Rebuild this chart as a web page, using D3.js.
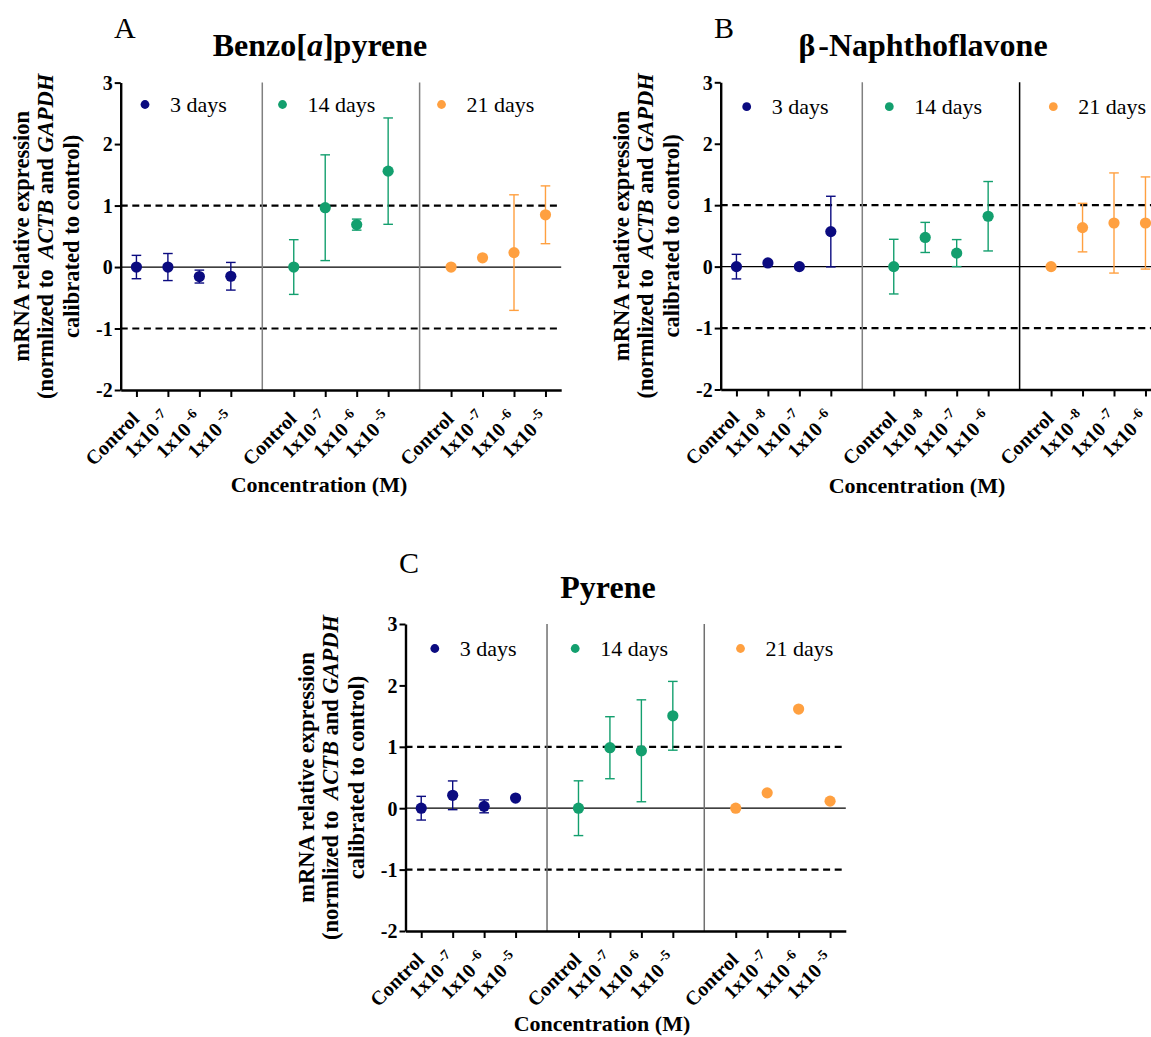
<!DOCTYPE html>
<html>
<head>
<meta charset="utf-8">
<script src="https://cdn.jsdelivr.net/npm/d3@7"></script>
<style>
  body { margin: 0; background: #fff; }
  svg { display: block; }
  text { font-family: "Liberation Serif", "Times New Roman", serif; fill: #000; }
</style>
</head>
<body>
<svg id="fig" width="1151" height="1037"></svg>
<script>
// ---- data ----------------------------------------------------------
const timepoints = ["3 days", "14 days", "21 days"];
const yTicks = [-2, -1, 0, 1, 2, 3];
const thresholds = [-1, 1];

// Benzo[a]pyrene: means and SD per time point (rows) and dose (columns)
const bapDoses = ["Control", "1x10^-7", "1x10^-6", "1x10^-5"];
const bapMeans = [
  [0, 0, -0.155, -0.15],
  [0, 0.965, 0.69, 1.56],
  [0, 0.15, 0.235, 0.85]
];
const bapErrors = [
  [0.19, 0.22, 0.105, 0.225],
  [0.445, 0.86, 0.09, 0.865],
  [0, 0, 0.94, 0.47]
];

// beta-Naphthoflavone
const bnfDoses = ["Control", "1x10^-8", "1x10^-7", "1x10^-6"];
const bnfMeans = [
  [0, 0.06, 0, 0.57],
  [0, 0.475, 0.22, 0.82],
  [0, 0.635, 0.71, 0.71]
];
const bnfErrors = [
  [0.2, 0, 0, 0.575],
  [0.445, 0.245, 0.22, 0.565],
  [0, 0.395, 0.815, 0.75]
];

// Pyrene
const pyrDoses = ["Control", "1x10^-7", "1x10^-6", "1x10^-5"];
const pyrMeans = [
  [0, 0.21, 0.03, 0.165],
  [0, 0.985, 0.935, 1.505],
  [0, 0.25, 1.615, 0.115]
];
const pyrErrors = [
  [0.193, 0.234, 0.105, 0],
  [0.446, 0.505, 0.83, 0.56],
  [0, 0, 0, 0]
];

// ---- styling and layout -------------------------------------------
const seriesColors = ["#0b0b80", "#139f6e", "#ffa040"];
const serif = '"Liberation Serif", "Times New Roman", serif';

const panels = [
  {
    letter: "A", letterX: 114, letterY: 38,
    title: [{ t: "Benzo[" }, { t: "a", italic: true }, { t: "]pyrene" }],
    titleX: 320, titleY: 56,
    doses: bapDoses, means: bapMeans, errors: bapErrors,
    left: 120.7, right: 561.2, top: 82.6, bottom: 390,
    sepColors: ["#808080", "#808080"],
    legendX: [145, 282.5, 441.5], legendY: 104.5,
    xTitleX: 319, xTitleY: 492
  },
  {
    letter: "B", letterX: 714, letterY: 38,
    title: [{ t: "β" }, { t: "-Naphthoflavone", dx: 3 }],
    titleX: 923, titleY: 56,
    doses: bnfDoses, means: bnfMeans, errors: bnfErrors,
    left: 720.7, right: 1161.2, top: 82.3, bottom: 389.5,
    sepColors: ["#808080", "#000000"],
    legendX: [746.7, 889.3, 1053.3], legendY: 106.7,
    xTitleX: 917, xTitleY: 493
  },
  {
    letter: "C", letterX: 399, letterY: 573,
    title: [{ t: "Pyrene" }],
    titleX: 608, titleY: 598,
    doses: pyrDoses, means: pyrMeans, errors: pyrErrors,
    left: 405.5, right: 845.8, top: 624, bottom: 931,
    sepColors: ["#707070", "#707070"],
    legendX: [434.8, 575.2, 740.5], legendY: 648.5,
    xTitleX: 602, xTitleY: 1031
  }
];

const svg = d3.select("#fig");
svg.append("rect").attr("width", 1151).attr("height", 1037).attr("fill", "#fff");

function drawPanel(p) {
  const g = svg.append("g");
  const x = d3.scaleLinear().domain([-0.5, 13.5]).range([p.left, p.right]);
  const y = d3.scaleLinear().domain([-2, 3]).range([p.bottom, p.top]);
  const slot = (gi, di) => gi * 5 + di;
  const slots = [];
  timepoints.forEach((_, gi) => p.doses.forEach((_, di) => slots.push(slot(gi, di))));

  // reference lines at +/-1 (dashed) and 0 (solid)
  g.selectAll("line.thr").data(thresholds).join("line")
    .attr("class", "thr")
    .attr("x1", p.left).attr("x2", p.right)
    .attr("y1", d => y(d)).attr("y2", d => y(d))
    .attr("stroke", "#000").attr("stroke-width", 2.2)
    .attr("stroke-dasharray", "7,4.6");
  g.append("line")
    .attr("x1", p.left).attr("x2", p.right)
    .attr("y1", y(0)).attr("y2", y(0))
    .attr("stroke", "#000").attr("stroke-width", 1.3);

  // separators between time points
  g.selectAll("line.sep").data([4, 9]).join("line")
    .attr("class", "sep")
    .attr("x1", d => x(d)).attr("x2", d => x(d))
    .attr("y1", y(3)).attr("y2", y(-2))
    .attr("stroke", (d, i) => p.sepColors[i]).attr("stroke-width", 1.5);

  // error bars and mean points
  timepoints.forEach((tp, gi) => {
    const color = seriesColors[gi];
    const pts = p.doses.map((dose, di) => ({
      cx: x(slot(gi, di)), m: p.means[gi][di], e: p.errors[gi][di]
    }));
    const bars = g.append("g").attr("stroke", color).attr("stroke-width", 1.4);
    pts.filter(d => d.e > 0).forEach(d => {
      bars.append("line").attr("x1", d.cx).attr("x2", d.cx)
        .attr("y1", y(d.m - d.e)).attr("y2", y(d.m + d.e));
      [d.m - d.e, d.m + d.e].forEach(v => {
        bars.append("line").attr("x1", d.cx - 4.8).attr("x2", d.cx + 4.8)
          .attr("y1", y(v)).attr("y2", y(v));
      });
    });
    g.append("g").selectAll("circle").data(pts).join("circle")
      .attr("cx", d => d.cx).attr("cy", d => y(d.m)).attr("r", 5.6)
      .attr("fill", color);

    // legend entry
    g.append("circle").attr("cx", p.legendX[gi]).attr("cy", p.legendY)
      .attr("r", 4.4).attr("fill", color);
    g.append("text").attr("x", p.legendX[gi] + 25).attr("y", p.legendY + 7.5)
      .attr("font-size", 22).text(tp);
  });

  // y axis
  const yAxis = g.append("g").attr("transform", `translate(${p.left},0)`)
    .call(d3.axisLeft(y).tickValues(yTicks).tickFormat(d => String(d))
      .tickSize(6).tickSizeOuter(0).tickPadding(2));
  yAxis.select(".domain").attr("stroke-width", 2.4);
  yAxis.selectAll(".tick line").attr("stroke-width", 2);
  yAxis.selectAll(".tick text").attr("font-family", serif)
    .attr("font-weight", "bold").attr("font-size", 20).attr("dy", "0.34em");

  // x axis
  const xAxis = g.append("g").attr("transform", `translate(0,${p.bottom})`)
    .call(d3.axisBottom(x).tickValues(slots).tickFormat("")
      .tickSize(7).tickSizeOuter(0));
  xAxis.select(".domain").attr("stroke-width", 2.4);
  xAxis.selectAll(".tick line").attr("stroke-width", 2);

  // rotated dose labels with superscript exponents
  timepoints.forEach((_, gi) => {
    p.doses.forEach((dose, di) => {
      const tx = x(slot(gi, di));
      const t = g.append("text")
        .attr("transform", `translate(${tx - 1},${p.bottom + 25}) rotate(-45)`)
        .attr("text-anchor", "end").attr("dy", "0.35em")
        .attr("font-weight", "bold").attr("font-size", 20);
      const parts = dose.split("^");
      t.append("tspan").text(parts[0]);
      if (parts[1]) {
        t.append("tspan").attr("dx", 4).attr("dy", -8).attr("font-size", 14)
          .text(parts[1]);
      }
    });
  });

  // axis titles
  g.append("text").attr("x", p.xTitleX).attr("y", p.xTitleY)
    .attr("text-anchor", "middle").attr("font-weight", "bold").attr("font-size", 22)
    .text("Concentration (M)");

  const cy = (p.top + p.bottom) / 2;
  const yLines = [
    [{ t: "mRNA relative expression" }],
    [{ t: "(normlized to" }, { t: "ACTB", italic: true, dx: 11 }, { t: "and", dx: 5.5 },
     { t: "GAPDH", italic: true, dx: 5.5 }],
    [{ t: "calibrated to control)" }]
  ];
  const yOff = [92, 67.5, 41.5];
  yLines.forEach((parts, li) => {
    const t = g.append("text")
      .attr("transform", `translate(${p.left - yOff[li]},${cy}) rotate(-90)`)
      .attr("text-anchor", "middle").attr("font-weight", "bold").attr("font-size", 22.5);
    parts.forEach(pt => {
      const s = t.append("tspan").text(pt.t);
      if (pt.italic) s.attr("font-style", "italic");
      if (pt.dx) s.attr("dx", pt.dx);
    });
  });

  // panel letter and title
  g.append("text").attr("x", p.letterX).attr("y", p.letterY)
    .attr("font-size", 30).text(p.letter);
  const title = g.append("text").attr("x", p.titleX).attr("y", p.titleY)
    .attr("text-anchor", "middle").attr("font-weight", "bold").attr("font-size", 32);
  p.title.forEach(pt => {
    const s = title.append("tspan").text(pt.t);
    if (pt.italic) s.attr("font-style", "italic");
    if (pt.dx) s.attr("dx", pt.dx);
  });
}

panels.forEach(drawPanel);
</script>
</body>
</html>
